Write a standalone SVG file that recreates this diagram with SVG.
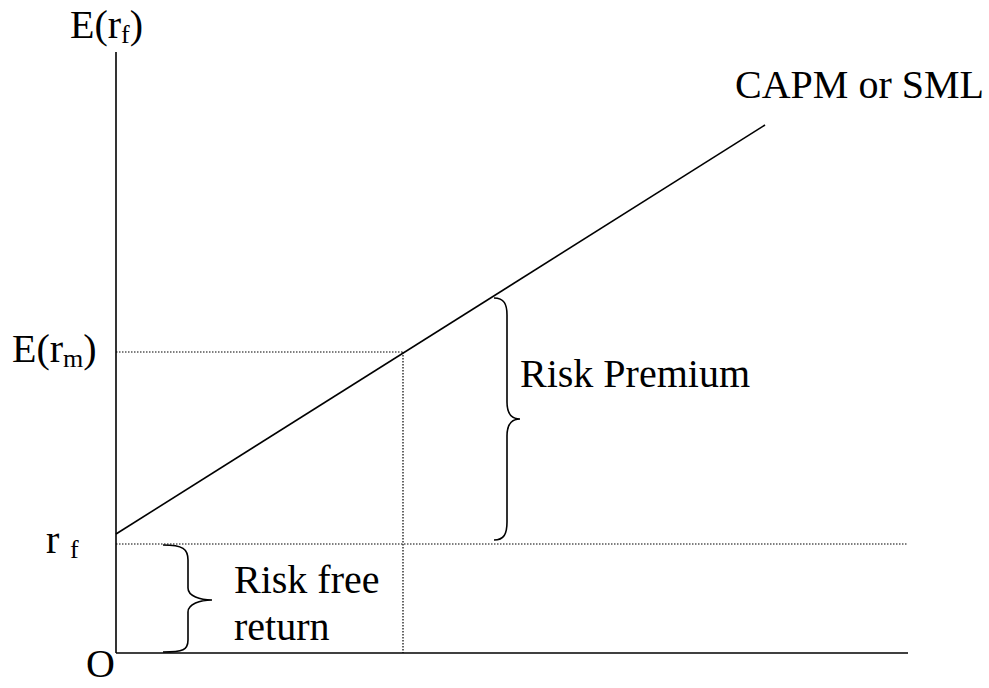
<svg xmlns="http://www.w3.org/2000/svg" width="989" height="688" viewBox="0 0 989 688">
<style>
.lbl{font-family:'Liberation Serif','Times New Roman',Times,serif;font-size:40px;fill:#000}
.sub{font-size:26px}
.axis{stroke:#000;stroke-width:1.6;fill:none}
.dot{stroke:#000;stroke-width:1.2;stroke-dasharray:1.5 1.5;fill:none}
.brace{stroke:#000;stroke-width:1.6;fill:none}
</style>
<rect width="989" height="688" fill="#fff"/>
<g id="guides">
<line class="dot" x1="116" y1="352" x2="403" y2="352"/>
<line class="dot" x1="403" y1="352" x2="403" y2="653"/>
<line class="dot" x1="116" y1="544" x2="908" y2="544"/>
</g>
<g id="axes">
<line class="axis" x1="116" y1="52" x2="116" y2="653"/>
<line class="axis" x1="116" y1="653" x2="908" y2="653"/>
</g>
<g id="sml">
<line class="axis" x1="116" y1="534" x2="765" y2="125"/>
</g>
<g id="brace-premium">
<path class="brace" d="M494,298 C504,298 507,304 507,315 L507,402 C507,414 512,419 520,419 C512,419 507,424 507,436 L507,522 C507,534 504,540 494,540"/>
</g>
<g id="brace-free">
<path class="brace" d="M163,545 C183,545 188,549 188,560 L188,588 C188,596 200,600 212,600 C200,600 188,604 188,612 L188,640 C188,650 183,652 163,652"/>
</g>
<g id="labels">
<text class="lbl" x="70" y="38">E(r<tspan class="sub" dy="5">f</tspan><tspan dy="-5">)</tspan></text>
<text class="lbl" x="735" y="98">CAPM or SML</text>
<text class="lbl" x="12" y="362">E(r<tspan class="sub" dy="5">m</tspan><tspan dy="-5">)</tspan></text>
<text class="lbl" x="46" y="553">r<tspan class="sub" x="70" dy="5">f</tspan></text>
<text class="lbl" x="520" y="387">Risk Premium</text>
<text class="lbl" x="234" y="593">Risk free</text>
<text class="lbl" x="234" y="640">return</text>
<text class="lbl" x="86" y="677">O</text>
</g>
</svg>
